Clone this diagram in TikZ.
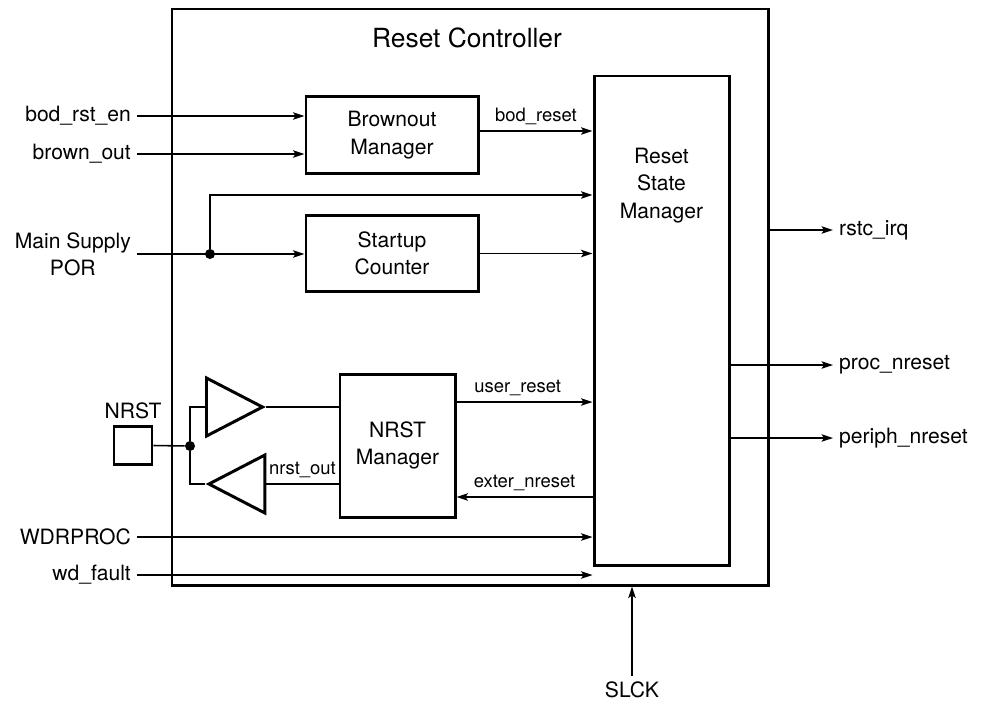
\documentclass[tikz,border=0pt]{standalone}
\usepackage{fontspec}
\setmainfont{TeX Gyre Heros}
\usetikzlibrary{arrows.meta}
\usetikzlibrary{shapes}

\begin{document}
\begin{tikzpicture}[x = 0.2mm, y = -0.2mm, >={Stealth[length = 2.3mm, width = 1.5mm, inset = 0.5mm]}]
	\tikzstyle{boxStyle} = [draw, line width = 1.7pt, inner sep = 0pt]
	\tikzstyle{blockStyle} = [boxStyle, minimum width = 34.4mm, minimum height = 15.3mm, align = center, font = \fontsize{12}{15.5}\selectfont]
	\tikzstyle{bufStyle} = [draw, line width = 1.7pt, shape = isosceles triangle, isosceles triangle stretches, minimum width = 11.6mm, minimum height = 11.2mm, inner sep = 0pt]
	\tikzstyle{dotStyle} = [shape = circle, fill, minimum size = 2mm, inner sep = 0pt]
	\tikzstyle{pinStyle} = [font = \fontsize{12}{15.5}\selectfont, align = center]
	\tikzstyle{sigStyle} = [font = \fontsize{10.5}{12}\selectfont]
	\tikzstyle{wireStyle} = [line width = 0.9pt]
	\useasboundingbox (0,0) rectangle (993,709);
	\node[boxStyle, minimum width = 119.2mm, minimum height = 115.2mm] (rc) at (470,297) {};
	\node[font = \fontsize{15}{18}\selectfont] (title) at (467,38) {Reset Controller};
	\node[blockStyle] (bom) at (392,135) {Brownout\\Manager};
	\node[blockStyle] (suc) at (392,253.5) {Startup\\Counter};
	\node[boxStyle, minimum width = 27mm, minimum height = 97.8mm, label = {[pinStyle, anchor = north, yshift = -13.5mm]north:Reset\\State\\Manager}] (rsm) at (661.5,320.5) {};
	\node[blockStyle, minimum width = 23mm, minimum height = 28.6mm] (nrm) at (397.5,445.5) {NRST\\Manager};
	\node[boxStyle, minimum size = 7.6mm, label = {[pinStyle]above:NRST}] (nrst) at (133,445.5) {};
	\node[bufStyle, anchor = lower side] (bufin) at (205,407) {};
	\node[bufStyle, shape border rotate = 180, anchor = apex] (bufout) at (205,484) {};
	\node[dotStyle] (porj) at (210,254) {};
	\node[dotStyle] (nrstj) at (190,446) {};
	% inputs
	\node[pinStyle, anchor = east] (bodrsten) at (137,116) {bod\_rst\_en};
	\node[pinStyle, anchor = east] (brownout) at (137,154) {brown\_out};
	\node[pinStyle, anchor = east] (mainpor) at (137,254) {Main Supply\\POR};
	\node[pinStyle, anchor = east] (wdrproc) at (137,537) {WDRPROC};
	\node[pinStyle, anchor = east] (wdfault) at (137,575) {wd\_fault};
	\node[pinStyle] (slck) at (632,690) {SLCK};
	% outputs
	\node[pinStyle, anchor = west] (rstcirq) at (833,230) {rstc\_irq};
	\node[pinStyle, anchor = west] (procnreset) at (833,365) {proc\_nreset};
	\node[pinStyle, anchor = west] (periphnreset) at (833,438) {periph\_nreset};
	\draw[wireStyle, ->] (bodrsten.east) -- (bodrsten.east -| bom.west);
	\draw[wireStyle, ->] (brownout.east) -- (brownout.east -| bom.west);
	\draw[wireStyle, ->] (mainpor.east) -- (mainpor.east -| suc.west);
	\draw[wireStyle, ->] (porj) |- (rsm.west |- 0,195);
	\draw[wireStyle, ->] (suc.east) -- (suc.east -| rsm.west);
	\draw[wireStyle, ->] (bom.east |- 0,131) -- (rsm.west |- 0,131) node[sigStyle, midway, above] {bod\_reset};
	\draw[wireStyle] (nrst.east) -- (nrstj);
	\draw[wireStyle] (nrstj) |- (bufin.lower side);
	\draw[wireStyle] (nrstj) |- (bufout.apex);
	\draw[wireStyle] (bufin.apex) -- (bufin.apex -| nrm.west);
	\draw[wireStyle] (bufout.lower side -| nrm.west) -- (bufout.lower side) node[sigStyle, midway, above] {nrst\_out};
	\draw[wireStyle, ->] (nrm.east |- 0,402) -- (rsm.west |- 0,402) node[sigStyle, pos = 0.45, above] {user\_reset};
	\draw[wireStyle, ->] (rsm.west |- 0,497) -- (nrm.east |- 0,497) node[sigStyle, midway, above] {exter\_nreset};
	\draw[wireStyle, ->] (wdrproc.east) -- (wdrproc.east -| rsm.west);
	\draw[wireStyle, ->] (wdfault.east) -- (wdfault.east -| rsm.west);
	\draw[wireStyle, ->] (slck.north) -- (slck.north |- rc.south);
	\draw[wireStyle, ->] (rstcirq.west -| rc.east) -- (rstcirq.west);
	\draw[wireStyle, ->] (procnreset.west -| rsm.east) -- (procnreset.west);
	\draw[wireStyle, ->] (periphnreset.west -| rsm.east) -- (periphnreset.west);
\end{tikzpicture}
\end{document}
